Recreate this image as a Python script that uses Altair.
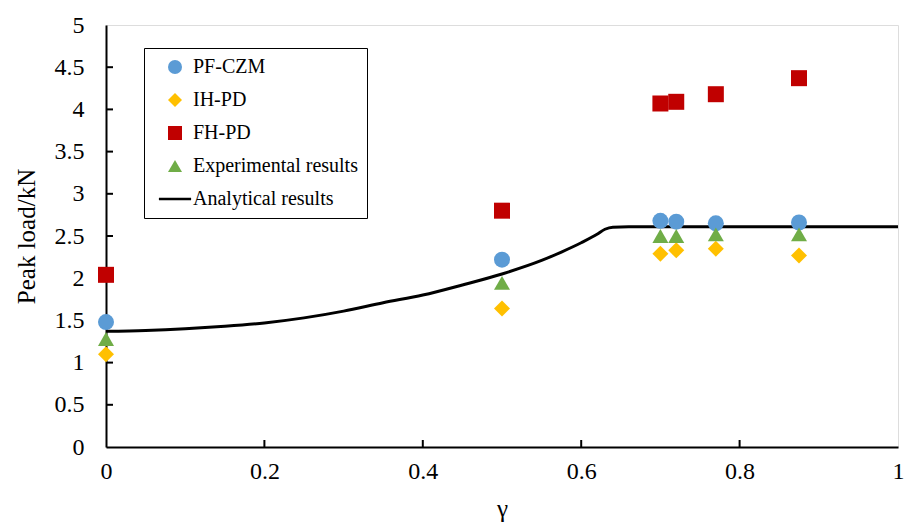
import altair as alt
import pandas as pd

# ---- data ----
gamma = [0.0, 0.5, 0.7, 0.72, 0.77, 0.875]
pf_czm = [1.48, 2.22, 2.68, 2.67, 2.65, 2.66]
ih_pd = [1.10, 1.64, 2.29, 2.33, 2.35, 2.27]
fh_pd = [2.04, 2.80, 4.07, 4.09, 4.18, 4.37]
experimental = [1.28, 1.945, 2.50, 2.50, 2.52, 2.52]

analytic_x = [0.0, 0.05, 0.1, 0.15, 0.2, 0.25, 0.3, 0.35, 0.4, 0.45, 0.5, 0.55, 0.575,
              0.6, 0.62, 0.63, 0.64, 0.66, 0.7, 0.8, 0.9, 1.0]
analytic_y = [1.37, 1.38, 1.40, 1.43, 1.47, 1.53, 1.61, 1.71, 1.80, 1.92, 2.05, 2.21, 2.31,
              2.42, 2.52, 2.58, 2.605, 2.61, 2.61, 2.61, 2.61, 2.61]

series_names = ["PF-CZM", "IH-PD", "FH-PD", "Experimental results", "Analytical results"]
series_colors = ["#5B9BD5", "#FFC000", "#C00000", "#70AD47", "#000000"]
series_shapes = ["circle", "diamond", "square", "triangle-up",
                 "M-2.3,-0.18H2.3V0.18H-2.3Z"]

x_ticks = [0, 0.2, 0.4, 0.6, 0.8, 1]
y_ticks = [0, 0.5, 1, 1.5, 2, 2.5, 3, 3.5, 4, 4.5, 5]

W, H = 792, 422
FONT = "Liberation Serif"

rows = []
for name, vals in zip(series_names[:4], [pf_czm, ih_pd, fh_pd, experimental]):
    for g, v in zip(gamma, vals):
        rows.append({"gamma": g, "load": v, "series": name})
pts = pd.DataFrame(rows)
line_df = pd.DataFrame({"gamma": analytic_x, "load": analytic_y})

xscale = alt.Scale(domain=[0, 1], nice=False, zero=False)
yscale = alt.Scale(domain=[0, 5], nice=False, zero=False)

xaxis = alt.Axis(values=x_ticks, format="~g", title="γ", tickSize=0, labelPadding=12,
                 labelFontSize=24, titleFontSize=25, labelFont=FONT, titleFont=FONT,
                 labelColor="black", titleColor="black", titleFontWeight="normal",
                 domainColor="black", domainWidth=2, grid=False, titlePadding=13,
                 labelFlush=False)
yaxis = alt.Axis(values=y_ticks, format="~g", title="Peak load/kN", tickSize=0, labelPadding=22,
                 labelFontSize=24, titleFontSize=25, labelFont=FONT, titleFont=FONT,
                 labelColor="black", titleColor="black", titleFontWeight="normal",
                 domainColor="black", domainWidth=2, grid=False, titlePadding=15,
                 labelFlush=False)

line = alt.Chart(line_df).mark_line(color="black", strokeWidth=3, interpolate="monotone").encode(
    x=alt.X("gamma:Q", scale=xscale, axis=xaxis),
    y=alt.Y("load:Q", scale=yscale, axis=yaxis),
)

points = alt.Chart(pts).mark_point(filled=True, size=256, opacity=1, strokeWidth=0).encode(
    x=alt.X("gamma:Q", scale=xscale),
    y=alt.Y("load:Q", scale=yscale),
    color=alt.Color("series:N", scale=alt.Scale(domain=series_names, range=series_colors),
                    legend=alt.Legend(title=None, orient="none", legendX=38, legendY=23,
                                      symbolSize=196, symbolStrokeWidth=0, labelFont=FONT,
                                      labelFontSize=20, labelColor="black", labelOffset=8,
                                      symbolOffset=12,
                                      rowPadding=13, padding=9, strokeColor="black",
                                      fillColor="white", labelLimit=400, symbolOpacity=1)),
    shape=alt.Shape("series:N", scale=alt.Scale(domain=series_names, range=series_shapes)),
)

# inside tick marks drawn along the axes
tick_dx = 7 / W * 1.0
tick_dy = 7 / H * 5.0
xt = pd.DataFrame({"gamma": x_ticks[1:-1]})
yt = pd.DataFrame({"load": y_ticks[1:-1]})
xtick = alt.Chart(xt).transform_calculate(y0="0", y1=str(tick_dy)).mark_rule(
    color="black", strokeWidth=2).encode(
    x=alt.X("gamma:Q", scale=xscale), y=alt.Y("y0:Q", scale=yscale), y2="y1:Q")
ytick = alt.Chart(yt).transform_calculate(x0="0", x1=str(tick_dx)).mark_rule(
    color="black", strokeWidth=2).encode(
    y=alt.Y("load:Q", scale=yscale), x=alt.X("x0:Q", scale=xscale), x2="x1:Q")

chart = alt.layer(xtick, ytick, line, points).properties(
    width=W, height=H,
    autosize=alt.AutoSizeParams(type="none"),
    padding={"left": 106, "top": 25, "right": 7, "bottom": 78},
).configure_view(stroke="black", strokeWidth=2).configure_axis(
    labelFont=FONT, titleFont=FONT
).configure(background="white", font=FONT)

chart.save("out.html", embed_options={"renderer": "svg", "actions": False})
